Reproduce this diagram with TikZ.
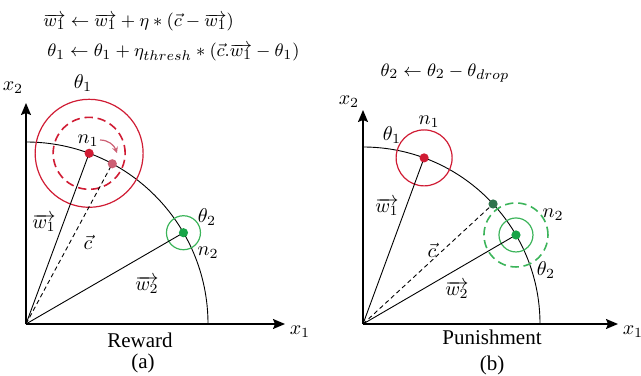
\documentclass[tikz,border=0pt]{standalone}
\usepackage{fontspec}
\newfontfamily\tmfont{Liberation Serif}
\usetikzlibrary{arrows.meta,calc}
\definecolor{nred}{RGB}{208,28,52}
\definecolor{npink}{RGB}{204,96,116}
\definecolor{ngreen}{RGB}{24,164,72}
\definecolor{lgreen}{RGB}{60,180,90}
\definecolor{dgreen}{RGB}{48,116,76}
\tikzset{
  axis/.style={line width=0.75pt,-{Stealth[length=6pt,width=5pt,inset=1pt]}},
  vec/.style={line width=0.45pt},
  cvec/.style={line width=0.45pt,dash pattern=on 2.2pt off 1.6pt},
  dot/.style={circle,inner sep=0pt,minimum size=4.6pt},
  ring/.style={line width=0.6pt},
  dring/.style={line width=0.8pt,dash pattern=on 4.2pt off 2.4pt},
  lbl/.style={inner sep=0pt,font=\fontsize{9.6}{11.5}\selectfont},
  eqtxt/.style={inner sep=0pt,font=\fontsize{9.4}{11.5}\selectfont},
  captxt/.style={inner sep=0pt,font=\tmfont\fontsize{10.5}{12}\selectfont},
}
\begin{document}
\begin{tikzpicture}[x=0.5pt,y=0.5pt]
\useasboundingbox (0,0) rectangle (641,375);
% ---------- panel (a) ----------
\coordinate (Oa) at (26,51);
\coordinate (xa) at (285,51);
\coordinate (ya) at (26,272);
\draw[axis] (Oa) -- (xa);
\draw[axis] (Oa) -- (ya);
\draw[vec] (26,233) arc[start angle=90,end angle=0,radius=182];
\coordinate (n1a) at ($(Oa)+(69.7:182)$);
\coordinate (pka) at ($(Oa)+(61.7:182)$);
\coordinate (n2a) at ($(Oa)+(30.1:182)$);
\draw[nred,ring] (n1a) circle[radius=54];
\draw[nred,dring] (n1a) circle[radius=36];
\draw[lgreen,ring] (n2a) circle[radius=17];
\draw[vec] (Oa) -- (n1a);
\draw[cvec] (Oa) -- (pka);
\draw[vec] (Oa) -- (n2a);
\node[dot,fill=nred] (d1a) at (n1a) {};
\node[dot,fill=npink] (dpa) at (pka) {};
\node[dot,fill=ngreen] (d2a) at (n2a) {};
\coordinate (ars) at (100,235);
\coordinate (are) at (117,222);
\draw[npink,line width=0.6pt,-{Stealth[length=3pt,width=3pt]}] (ars) to[out=0,in=110] (are);
\node[eqtxt] (eq1) at (43,353) [anchor=west] {$\overrightarrow{w_1} \leftarrow \overrightarrow{w_1} + \eta * (\vec{c} - \overrightarrow{w_1})$};
\node[eqtxt] (eq2) at (47,323) [anchor=west] {$\theta_1 \leftarrow \theta_1 + \eta_{thresh} * (\vec{c}.\overrightarrow{w_1} - \theta_1)$};
\node[lbl] (t1a) at (83,292) {$\theta_1$};
\node[lbl] (x2a) at (13,287) {$x_2$};
\node[lbl] (n1la) at (88,234) {$n_1$};
\node[lbl] (t2a) at (207,158) {$\theta_2$};
\node[lbl] (n2la) at (208,122) {$n_2$};
\node[lbl] (w1a) at (44,152) {$\overrightarrow{w_1}$};
\node[lbl] (ca) at (88,133) {$\vec{c}$};
\node[lbl] (w2a) at (147,90) {$\overrightarrow{w_2}$};
\node[lbl] (x1a) at (300,43) {$x_1$};
\node[captxt] (rew) at (140,35) {Reward};
\node[captxt] (suba) at (143,12) {(a)};
% ---------- panel (b) ----------
\coordinate (Ob) at (363,51);
\coordinate (xb) at (618,51);
\coordinate (yb) at (363,265);
\draw[axis] (Ob) -- (xb);
\draw[axis] (Ob) -- (yb);
\draw[vec] (363,228) arc[start angle=90,end angle=0,radius=177];
\coordinate (n1b) at ($(Ob)+(69.8:177)$);
\coordinate (dgb) at ($(Ob)+(42.7:177)$);
\coordinate (n2b) at ($(Ob)+(30.2:177)$);
\draw[nred,ring] (n1b) circle[radius=28];
\draw[lgreen,ring] (n2b) circle[radius=17];
\draw[lgreen,dring] (n2b) circle[radius=32];
\draw[vec] (Ob) -- (n1b);
\draw[cvec] (Ob) -- (dgb);
\draw[vec] (Ob) -- (n2b);
\node[dot,fill=nred] (d1b) at (n1b) {};
\node[dot,fill=dgreen] (dgd) at (dgb) {};
\node[dot,fill=ngreen] (d2b) at (n2b) {};
\node[eqtxt] (eq3) at (445,302) {$\theta_2 \leftarrow \theta_2 - \theta_{drop}$};
\node[lbl] (x2b) at (349,273) {$x_2$};
\node[lbl] (n1lb) at (429,253) {$n_1$};
\node[lbl] (t1b) at (392,240) {$\theta_1$};
\node[lbl] (w1b) at (387,168) {$\overrightarrow{w_1}$};
\node[lbl] (n2lb) at (553,160) {$n_2$};
\node[lbl] (cb) at (432,125) {$\vec{c}$};
\node[lbl] (t2b) at (546,105) {$\theta_2$};
\node[lbl] (w2b) at (457,85) {$\overrightarrow{w_2}$};
\node[lbl] (x1b) at (633,43) {$x_1$};
\node[captxt] (pun) at (492,38) {Punishment};
\node[captxt] (subb) at (492,10) {(b)};
\end{tikzpicture}
\end{document}
